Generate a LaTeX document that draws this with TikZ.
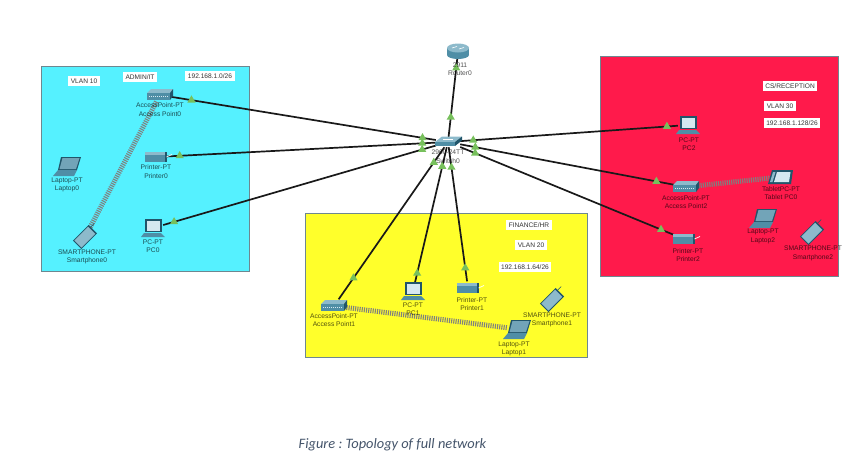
\documentclass[tikz,border=0pt]{standalone}
\usepackage{fontspec}
\setmainfont{Liberation Sans}
\newfontfamily\capfont{Carlito}
\usetikzlibrary{shapes,shapes.geometric,calc}
\definecolor{vlancyan}{HTML}{55F1FF}
\definecolor{vlanyellow}{HTML}{FFFF2B}
\definecolor{vlanred}{HTML}{FF1A4B}
\definecolor{zoneline}{HTML}{6E8790}
\definecolor{icon_body}{HTML}{4F8EA6}
\definecolor{icon_top}{HTML}{8DBACB}
\definecolor{icon_dark}{HTML}{21556A}
\definecolor{icon_light}{HTML}{D5E8F0}
\definecolor{linkgreen}{HTML}{77C05C}
\definecolor{capblue}{HTML}{44546A}
\tikzset{
  x=1pt, y=-1pt,
  zone/.style = {draw=zoneline, line width=0.9pt},
  devnode/.style = {inner sep=0pt, minimum width=20pt, minimum height=13pt},
  devlabel/.style = {align=center, inner sep=0pt, font=\fontsize{6.7}{8.4}\selectfont, text=black, text opacity=0.68},
  tagbox/.style = {fill=white, inner xsep=2.6pt, inner ysep=2.6pt, font=\fontsize{6.6}{8}\selectfont, text=black!80},
  wire/.style = {draw=black!90, line width=1.7pt},
  wifi/.style = {draw=black!50, line width=5pt, dash pattern=on 1.1pt off 1.1pt},
  linkup/.style = {regular polygon, regular polygon sides=3, fill=linkgreen, inner sep=0pt, minimum size=9.5pt},
  pics/dev_ap/.style = {code={
    \fill[icon_top] (-13,-2) -- (-9,-6) -- (13,-6) -- (10,-2) -- cycle;
    \fill[icon_body] (-13,-2) rectangle (10,5);
    \fill[icon_dark] (10,-2) -- (13,-6) -- (13,1) -- (10,5) -- cycle;
    \draw[icon_light, line width=1.6pt, dash pattern=on 1pt off 1pt] (-11,1.5) -- (9,1.5);
  }},
  pics/dev_printer/.style = {code={
    \fill[icon_body] (-11,-5) rectangle (9,5);
    \fill[icon_top] (-11,-5) rectangle (9,-2);
    \fill[icon_dark] (9,-5) rectangle (10.5,5);
    \draw[white, line width=0.7pt] (10.5,0) -- (16,-2.5);
  }},
  pics/dev_pc/.style = {code={
    \fill[icon_dark] (-8,-9) rectangle (9,4);
    \fill[icon_light] (-6.5,-7.5) rectangle (7,2.5);
    \fill[icon_body] (-9,5) -- (8,5) -- (12,9) -- (-12,9) -- cycle;
  }},
  pics/dev_laptop/.style = {code={
    \fill[icon_dark] (-6,-9) -- (14,-9) -- (10,4) -- (-9,4) -- cycle;
    \fill[icon_body!80!white] (-4.5,-8) -- (12.5,-8) -- (9,3) -- (-7.5,3) -- cycle;
    \fill[icon_body] (-9,4) -- (10,4) -- (7,10) -- (-14,10) -- cycle;
  }},
  pics/dev_phone/.style = {code={
    \begin{scope}[rotate=45]
      \fill[icon_dark] (-11,-6) rectangle (11,6);
      \fill[icon_top] (-10,-5) rectangle (9.5,5);
      \draw[icon_dark, line width=0.5pt] (11,-3) -- (16,-3);
    \end{scope}
  }},
  pics/dev_tablet/.style = {code={
    \fill[icon_dark] (-8,-7) -- (13,-7) -- (11,7) -- (-12,7) -- cycle;
    \fill[icon_light] (-3,-5) -- (10.5,-5) -- (9,5) -- (-6,5) -- cycle;
    \fill[icon_top] (-7,-5) -- (-4.5,-5) -- (-7.5,5) -- (-10,5) -- cycle;
  }},
  pics/dev_router/.style = {code={
    \fill[icon_body] (-11,-4) rectangle (11,3);
    \fill[icon_body] (0,3) ellipse (11 and 4);
    \fill[icon_top] (0,-4) ellipse (11 and 4.5);
    \draw[white, line width=0.6pt] (-6,-4) -- (-1,-5.5) (1,-3) -- (6,-4.5);
  }},
  pics/dev_switch/.style = {code={
    \fill[icon_top] (-13,0) -- (-6,-5.5) -- (14,-5.5) -- (7,0) -- cycle;
    \fill[icon_body] (-13,0) rectangle (7,4);
    \fill[icon_dark] (7,0) -- (14,-5.5) -- (14,-1.5) -- (7,4) -- cycle;
    \draw[white, line width=0.4pt] (-5,-3) -- (5,-3);
  }}
}
\begin{document}
\frenchspacing
\begin{tikzpicture}
\useasboundingbox (0,0) rectangle (842,466);
% vlan areas
\draw[zone, fill=vlancyan] (41,66) rectangle (249,271);
\draw[zone, fill=vlanyellow] (305,213) rectangle (587,357);
\draw[zone, fill=vlanred] (600,56) rectangle (838,276);

% devices
\node [devnode] (router0) at (458,52) {};
\node [devnode, minimum width=24pt, minimum height=10pt] (switch0) at (448,142) {};
\node [devnode] (ap0) at (160,95) {};
\node [devnode] (printer0) at (156,157) {};
\node [devnode] (laptop0) at (67,166) {};
\node [devnode] (phone0) at (85,237) {};
\node [devnode] (pc0) at (153,228) {};
\node [devnode] (ap1) at (334,306) {};
\node [devnode] (pc1) at (413,291) {};
\node [devnode] (printer1) at (468,288) {};
\node [devnode] (phone1) at (552,300) {};
\node [devnode] (laptop1) at (517,329) {};
\node [devnode] (pc2) at (688,125) {};
\node [devnode] (ap2) at (686,187) {};
\node [devnode] (printer2) at (684,239) {};
\node [devnode] (tablet0) at (780,177) {};
\node [devnode] (laptop2) at (763,218) {};
\node [devnode] (phone2) at (812,233) {};

% wireless links
\draw[wifi] (ap0) -- (phone0);
\draw[wifi] (ap1) -- (laptop1);
\draw[wifi] (ap2) -- (tablet0);

% cables
\draw[wire] (switch0) -- node[linkup, pos=0.25] (upr0) {} node[linkup, pos=0.88] (upr1) {} (router0);
\draw[wire] (switch0) -- node[linkup, pos=0.05] (upa0) {} node[linkup, pos=0.92] (upa1) {} (ap0);
\draw[wire] (switch0) -- node[linkup, pos=0.05] (upb0) {} node[linkup, pos=0.95] (upb1) {} (printer0);
\draw[wire] (switch0) -- node[linkup, pos=0.05] (upc0) {} node[linkup, pos=0.96] (upc1) {} (pc0);
\draw[wire] (switch0) -- node[linkup, pos=0.10] (upd0) {} node[linkup, pos=0.86] (upd1) {} (ap1);
\draw[wire] (switch0) -- node[linkup, pos=0.14] (upe0) {} node[linkup, pos=0.92] (upe1) {} (pc1);
\draw[wire] (switch0) -- node[linkup, pos=0.15] (upf0) {} node[linkup, pos=0.90] (upf1) {} (printer1);
\draw[wire] (switch0) -- node[linkup, pos=0.06] (upg0) {} node[linkup, pos=0.95] (upg1) {} (pc2);
\draw[wire] (switch0) -- node[linkup, pos=0.07] (uph0) {} node[linkup, pos=0.91] (uph1) {} (ap2);
\draw[wire] (switch0) -- node[linkup, pos=0.07] (upi0) {} node[linkup, pos=0.94] (upi1) {} (printer2);

% icons
\pic at (router0) {dev_router};
\pic at (switch0) {dev_switch};
\pic at (ap0) {dev_ap};
\pic at (printer0) {dev_printer};
\pic at (laptop0) {dev_laptop};
\pic at (phone0) {dev_phone};
\pic at (pc0) {dev_pc};
\pic at (ap1) {dev_ap};
\pic at (pc1) {dev_pc};
\pic at (printer1) {dev_printer};
\pic at (phone1) {dev_phone};
\pic at (laptop1) {dev_laptop};
\pic at (pc2) {dev_pc};
\pic at (ap2) {dev_ap};
\pic at (printer2) {dev_printer};
\pic at (tablet0) {dev_tablet};
\pic at (laptop2) {dev_laptop};
\pic at (phone2) {dev_phone};

% device labels
\node [devlabel] (router0t) at (460,69) {2911\\Router0};
\node [devlabel] (switch0t) at (448,156.5) {2960-24TT\\Switch0};
\node [devlabel] (ap0t) at (160,109.5) {AccessPoint-PT\\Access Point0};
\node [devlabel] (printer0t) at (156,171.5) {Printer-PT\\Printer0};
\node [devlabel] (laptop0t) at (67,185) {Laptop-PT\\Laptop0};
\node [devlabel] (phone0t) at (87,257) {SMARTPHONE-PT\\Smartphone0};
\node [devlabel] (pc0t) at (153,246) {PC-PT\\PC0};
\node [devlabel] (ap1t) at (334,320) {AccessPoint-PT\\Access Point1};
\node [devlabel] (pc1t) at (413,309) {PC-PT\\PC1};
\node [devlabel] (printer1t) at (472,304) {Printer-PT\\Printer1};
\node [devlabel] (phone1t) at (552,320) {SMARTPHONE-PT\\Smartphone1};
\node [devlabel] (laptop1t) at (514,349) {Laptop-PT\\Laptop1};
\node [devlabel] (pc2t) at (689,144) {PC-PT\\PC2};
\node [devlabel] (ap2t) at (686,202) {AccessPoint-PT\\Access Point2};
\node [devlabel] (printer2t) at (688,255) {Printer-PT\\Printer2};
\node [devlabel] (tablet0t) at (781,193) {TabletPC-PT\\Tablet PC0};
\node [devlabel] (laptop2t) at (763,236.5) {Laptop-PT\\Laptop2};
\node [devlabel] (phone2t) at (813,253.5) {SMARTPHONE-PT\\Smartphone2};

% area notes
\node [tagbox] (tag_vlan10) at (84,81) {VLAN 10};
\node [tagbox] (tag_admin) at (140,77) {ADMIN/IT};
\node [tagbox] (tag_net10) at (210,76) {192.168.1.0/26};
\node [tagbox] (tag_fin) at (529,225) {FINANCE/HR};
\node [tagbox] (tag_vlan20) at (531,245) {VLAN 20};
\node [tagbox] (tag_net20) at (525,267) {192.168.1.64/26};
\node [tagbox] (tag_cs) at (790,86) {CS/RECEPTION};
\node [tagbox] (tag_vlan30) at (780,106) {VLAN 30};
\node [tagbox] (tag_net30) at (792,123) {192.168.1.128/26};

\node [text=capblue, font=\capfont\itshape\fontsize{14.4}{16}\selectfont] (caption) at (392.5,445) {Figure : Topology of full network};
\end{tikzpicture}
\end{document}
